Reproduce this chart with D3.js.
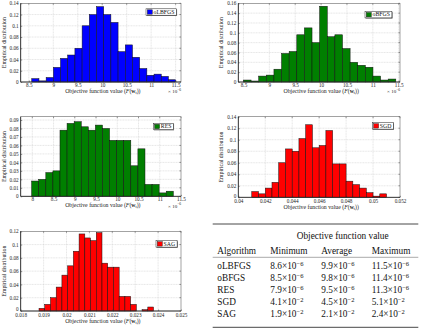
<!DOCTYPE html>
<html><head><meta charset="utf-8">
<script src="https://cdnjs.cloudflare.com/ajax/libs/d3/7.8.5/d3.min.js"></script>
<style>
html,body{margin:0;padding:0;background:#fff;}
svg{display:block;font-family:"Liberation Serif","DejaVu Serif",serif;}
</style></head>
<body>
<svg id="chart" width="421" height="332"></svg>
<script>
// ---------------- DATA ----------------
const olbfgsValues = [0.006,0.002,0.008,0.026,0.042,0.048,0.06,0.1,0.12,0.134,0.12,0.106,0.054,0.066,0.044,0.024,0.012,0.014,0.01,0.004];
const olbfgsBinStart = 8.56, olbfgsBinWidth = 0.147;
const olbfgsXTicks = [8.5,9,9.5,10,10.5,11,11.5];
const olbfgsYTicks = [0,0.02,0.04,0.06,0.08,0.1,0.12,0.14];

const obfgsValues = [0.004,0.002,0.012,0.014,0.026,0.058,0.062,0.096,0.11,0.08,0.154,0.092,0.096,0.068,0.04,0.034,0.03,0.012,0.004,0.006];
const obfgsBinStart = 8.5, obfgsBinWidth = 0.1472;
const obfgsXTicks = [8.5,9,9.5,10,10.5,11,11.5];
const obfgsYTicks = [0,0.02,0.04,0.06,0.08,0.1,0.12,0.14,0.16];

const resValues = [0.018,0.02,0.028,0.03,0.078,0.086,0.088,0.082,0.078,0.084,0.08,0.066,0.066,0.066,0.036,0.056,0.014,0.014,0.004,0.006];
const resBinStart = 7.985, resBinWidth = 0.1667;
const resXTicks = [8,8.5,9,9.5,10,10.5,11,11.5];
const resYTicks = [0,0.01,0.02,0.03,0.04,0.05,0.06,0.07,0.08,0.09];

const sgdValues = [0.01,0.006,0.016,0.026,0.06,0.084,0.08,0.102,0.126,0.086,0.09,0.116,0.058,0.058,0.028,0.022,0.016,0.008,0.002,0.006];
const sgdBinStart = 0.041, sgdBinWidth = 0.0005;
const sgdXTicks = [0.04,0.042,0.044,0.046,0.048,0.05,0.052];
const sgdYTicks = [0,0.02,0.04,0.06,0.08,0.1,0.12,0.14];

const sagValues = [0.004,0.01,0.02,0.036,0.054,0.068,0.09,0.116,0.11,0.106,0.118,0.072,0.066,0.066,0.022,0.022,0.01,0,0.002,0.006];
const sagBinStart = 0.0188, sagBinWidth = 0.00025;
const sagXTicks = [0.018,0.019,0.02,0.021,0.022,0.023,0.024,0.025];
const sagYTicks = [0,0.02,0.04,0.06,0.08,0.1,0.12];

const tableAlgorithms = ["oLBFGS","oBFGS","RES","SGD","SAG"];
const tableMinimum = [["8.6","−6"],["8.5","−6"],["7.9","−6"],["4.1","−2"],["1.9","−2"]];
const tableAverage = [["9.9","−6"],["9.8","−6"],["9.5","−6"],["4.5","−2"],["2.1","−2"]];
const tableMaximum = [["11.5","−6"],["11.4","−6"],["11.3","−6"],["5.1","−2"],["2.4","−2"]];
const tableColumns = ["Algorithm","Minimum","Average","Maximum"];
const tableTitle = "Objective function value";

// ---------------- DRAWING ----------------
const svg = d3.select("#chart");
svg.append("rect").attr("width",421).attr("height",332).attr("fill","#fff");

const fmt = d => d === 0 ? "0" : String(+d.toFixed(4));

function panel(o){
  const g = svg.append("g");
  const x = d3.scaleLinear().domain(o.xDomain).range([o.left,o.right]);
  const y = d3.scaleLinear().domain(o.yDomain).range([o.bottom,o.top]);
  // grid
  g.append("g").selectAll("line").data(o.xTicks.filter(t=>x(t)>o.left+0.5 && x(t)<o.right-0.5)).join("line")
    .attr("x1",d=>x(d)).attr("x2",d=>x(d)).attr("y1",o.top).attr("y2",o.bottom)
    .attr("stroke","#d4d4d4").attr("stroke-width",0.6).attr("stroke-dasharray","1,0.6");
  g.append("g").selectAll("line").data(o.yTicks.filter(t=>y(t)<o.bottom-0.5 && y(t)>o.top+0.5)).join("line")
    .attr("x1",o.left).attr("x2",o.right).attr("y1",d=>y(d)).attr("y2",d=>y(d))
    .attr("stroke","#d4d4d4").attr("stroke-width",0.6).attr("stroke-dasharray","1,0.6");
  // bars
  const bins = o.values.map((v,i)=>({x0:o.binStart+i*o.binWidth, x1:o.binStart+(i+1)*o.binWidth, v}));
  g.append("g").selectAll("rect").data(bins).join("rect")
    .attr("x",d=>x(d.x0)).attr("width",d=>x(d.x1)-x(d.x0))
    .attr("y",d=>y(d.v)).attr("height",d=>y(0)-y(d.v))
    .attr("fill",o.color).attr("stroke","#111").attr("stroke-width",0.5);
  // axes (ticks inward)
  const xa = d3.axisBottom(x).tickValues(o.xTicks).tickSize(-1.5).tickPadding(o.xPad).tickFormat(fmt);
  const ya = d3.axisLeft(y).tickValues(o.yTicks).tickSize(-1.5).tickPadding(2).tickFormat(fmt);
  const gx = g.append("g").attr("transform",`translate(0,${o.bottom})`).call(xa);
  const gy = g.append("g").attr("transform",`translate(${o.left},0)`).call(ya);
  [gx,gy].forEach(a=>{
    a.select(".domain").remove();
    a.selectAll("line").attr("stroke","#333").attr("stroke-width",0.5);
    a.selectAll("text").attr("font-size",5.2).attr("fill","#222").attr("font-family","Liberation Serif, serif");
  });
  if(o.zeroLift){
    gy.selectAll(".tick").filter(d=>d===0).select("text").attr("dy","-0.05em");
  }
  // top/right ticks
  g.append("g").selectAll("line").data(o.xTicks).join("line")
    .attr("x1",d=>x(d)).attr("x2",d=>x(d)).attr("y1",o.top).attr("y2",o.top+1.5).attr("stroke","#333").attr("stroke-width",0.5);
  g.append("g").selectAll("line").data(o.yTicks).join("line")
    .attr("x1",o.right).attr("x2",o.right-1.5).attr("y1",d=>y(d)).attr("y2",d=>y(d)).attr("stroke","#333").attr("stroke-width",0.5);
  // box
  g.append("rect").attr("x",o.left).attr("y",o.top).attr("width",o.right-o.left).attr("height",o.bottom-o.top)
    .attr("fill","none").attr("stroke","#666").attr("stroke-width",0.6);
  g.append("path").attr("d",`M${o.left},${o.top}V${o.bottom}H${o.right}`).attr("fill","none").attr("stroke","#111").attr("stroke-width",0.7);
  // labels
  const xl = g.append("text").attr("x",(o.left+o.right)/2+2).attr("y",o.bottom+11+(o.xPad-1))
    .attr("text-anchor","middle").attr("font-size",5.8).attr("fill","#222");
  xl.append("tspan").text("Objective function value (");
  xl.append("tspan").attr("font-style","italic").text("F");
  xl.append("tspan").text("(");
  xl.append("tspan").attr("font-weight","bold").text("w");
  xl.append("tspan").attr("font-size",4).attr("dy",1).text("t");
  xl.append("tspan").attr("dy",-1).text("))");
  g.append("text").attr("transform",`translate(${o.ylabelX},${(o.top+o.bottom)/2}) rotate(-90)`)
    .attr("text-anchor","middle").attr("font-size",5.8).attr("fill","#222").text("Empirical distribution");
  if(o.multiplier){
    const m = g.append("text").attr("x",o.right).attr("y",o.bottom+11.3).attr("text-anchor","end").attr("font-size",5.0).attr("fill","#222");
    m.append("tspan").text("× 10");
    m.append("tspan").attr("dy",-2.2).attr("font-size",3.6).text(o.multiplier);
  }
  // legend
  const lg = g.append("g");
  const lt = lg.append("text").attr("x",o.legX+7.5).attr("y",o.legY+4.9).attr("font-size",5.8).attr("fill","#111").text(o.name);
  const tw = lt.node().getComputedTextLength();
  lg.insert("rect","text").attr("x",o.legX+0.6).attr("y",o.legY+0.6).attr("width",tw+9.5).attr("height",6.4).attr("fill","#555");
  lg.insert("rect","text").attr("x",o.legX).attr("y",o.legY).attr("width",tw+9.5).attr("height",6.4).attr("fill","#fff").attr("stroke","#222").attr("stroke-width",0.5);
  lg.append("rect").attr("x",o.legX+1.3).attr("y",o.legY+1).attr("width",5).attr("height",4.4).attr("fill",o.color).attr("stroke","#111").attr("stroke-width",0.4);
}

panel({left:20.7,right:181,top:3.3,bottom:82, xDomain:[8.334,11.61], yDomain:[0,0.14], xPad:1.0,
  xTicks:olbfgsXTicks, yTicks:olbfgsYTicks, values:olbfgsValues, binStart:olbfgsBinStart, binWidth:olbfgsBinWidth,
  color:"#0000ff", name:"oLBFGS", legX:146, legY:8.8, multiplier:"−6", ylabelX:6});
panel({left:238.3,right:400,top:3.3,bottom:82, xDomain:[8.40,11.525], yDomain:[0,0.16], xPad:1.0,
  xTicks:obfgsXTicks, yTicks:obfgsYTicks, values:obfgsValues, binStart:obfgsBinStart, binWidth:obfgsBinWidth,
  color:"#007f00", name:"oBFGS", legX:365, legY:11.5, multiplier:"−6", ylabelX:223});
panel({left:20.7,right:181,top:116.7,bottom:196.3, xDomain:[7.727,11.5], yDomain:[0,0.0939], xPad:1.0,
  xTicks:resXTicks, yTicks:resYTicks, values:resValues, binStart:resBinStart, binWidth:resBinWidth,
  color:"#007f00", name:"RES", legX:153.3, legY:123.3, multiplier:"−6", ylabelX:6});
panel({left:238.3,right:400,top:116.7,bottom:197.3, xDomain:[0.04,0.052], yDomain:[0,0.14], xPad:1.6, zeroLift:true,
  xTicks:sgdXTicks, yTicks:sgdYTicks, values:sgdValues, binStart:sgdBinStart, binWidth:sgdBinWidth,
  color:"#ff0000", name:"SGD", legX:372.3, legY:122.7, multiplier:null, ylabelX:223});
panel({left:20.7,right:181,top:231.3,bottom:311, xDomain:[0.018,0.025], yDomain:[0,0.12], xPad:2.2, zeroLift:true,
  xTicks:sagXTicks, yTicks:sagYTicks, values:sagValues, binStart:sagBinStart, binWidth:sagBinWidth,
  color:"#ff0000", name:"SAG", legX:156, legY:240.7, multiplier:null, ylabelX:6});

// ---------------- TABLE ----------------
const tg = svg.append("g").attr("font-size",9.3).attr("fill","#111");
const ruleX0 = 212.7, ruleX1 = 418.3;
tg.append("line").attr("x1",ruleX0).attr("x2",ruleX1).attr("y1",224).attr("y2",224).attr("stroke","#333").attr("stroke-width",0.9);
tg.append("line").attr("x1",ruleX0).attr("x2",ruleX1).attr("y1",257.3).attr("y2",257.3).attr("stroke","#555").attr("stroke-width",0.5);
tg.append("line").attr("x1",ruleX0).attr("x2",ruleX1).attr("y1",327.3).attr("y2",327.3).attr("stroke","#333").attr("stroke-width",0.9);
const colX = [217.3, 270.3, 321.3, 371.7];
tg.append("text").attr("x",342.7).attr("y",239.3).attr("text-anchor","middle").text(tableTitle);
tg.selectAll("text.hdr").data(tableColumns).join("text").attr("class","hdr")
  .attr("x",(d,i)=>colX[i]).attr("y",254).text(d=>d);
const rowY = d3.scalePoint().domain(tableAlgorithms).range([269.3,317.3]);
tg.selectAll("text.alg").data(tableAlgorithms).join("text").attr("class","alg")
  .attr("x",colX[0]).attr("y",d=>rowY(d)).text(d=>d);
[tableMinimum,tableAverage,tableMaximum].forEach((col,ci)=>{
  col.forEach((v,ri)=>{
    const t = tg.append("text").attr("x",colX[ci+1]).attr("y",rowY(tableAlgorithms[ri]));
    t.append("tspan").text(v[0] + "×10");
    t.append("tspan").attr("dy",-3.6).attr("font-size",6.5).text(v[1]);
  });
});
</script>
</body></html>
